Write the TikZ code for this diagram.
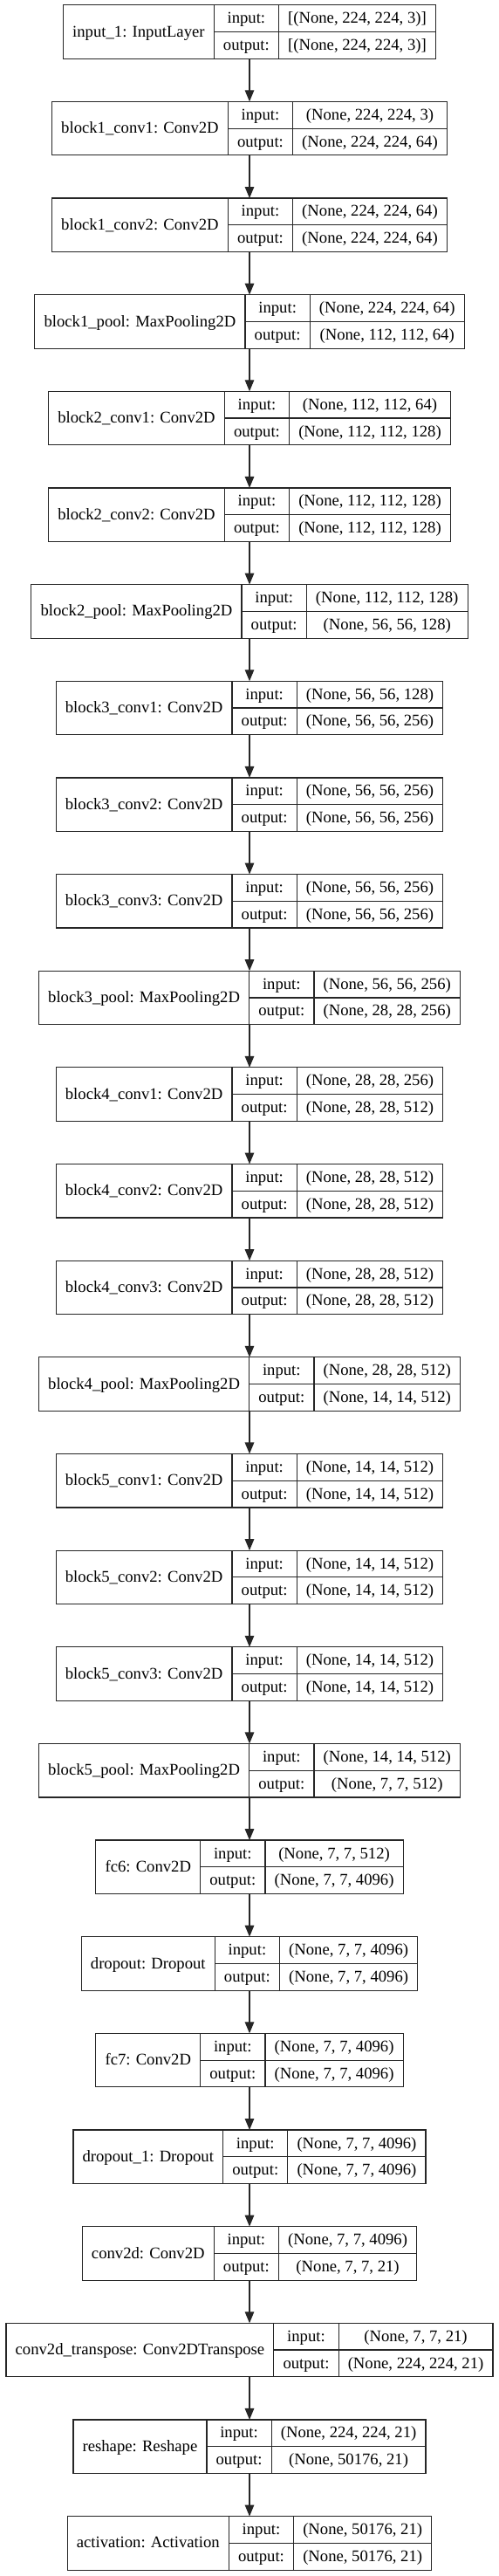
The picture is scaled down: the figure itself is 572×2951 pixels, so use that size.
\documentclass[tikz,border=0pt]{standalone}
\usepackage{fontspec}
\setmainfont{Liberation Serif}
\usetikzlibrary{arrows.meta}
\newlength\kwA \newlength\kwB \newlength\kwC \newlength\kwD
\font\kprim="Liberation Serif" at 18.667pt
\newcommand\kfont{\kprim}
\tikzset{
  recbox/.style={draw=black!85, line width=1.2pt, minimum height=61.5pt, inner sep=0pt, outer sep=0pt},
  recline/.style={draw=black!85, line width=1.2pt},
  rectext/.style={font=\kfont, inner sep=0pt, anchor=base, text=black},
  conn/.style={draw=black!85, line width=1.2pt, -{Triangle[length=13pt,width=10.5pt]}}
}
\newcommand\kerasrow[5]{%
  \settowidth\kwA{\kfont #3}%
  \settowidth\kwB{\kfont output:}%
  \settowidth\kwC{\kfont #4}%
  \settowidth\kwD{\kfont #5}%
  \pgfmathsetmacro\fa{\kwA+21.33}%
  \pgfmathsetmacro\fb{\kwB+21.33}%
  \pgfmathsetmacro\fc{max(\kwC,\kwD)+21.33}%
  \pgfmathsetmacro\fw{\fa+\fb+\fc}%
  \pgfmathsetmacro\fx{286-\fw/2}%
  \pgfmathsetmacro\fy{-(5.7+110.65*#1)}%
  \node[recbox, minimum width=\fw pt, anchor=north west] (#2) at (\fx,\fy) {};
  \draw[recline] ({\fx+\fa},\fy) -- ++(0,-61.5);
  \draw[recline] ({\fx+\fa+\fb},\fy) -- ++(0,-61.5);
  \draw[recline] ({\fx+\fa},{\fy-30.75}) -- ++({\fb+\fc},0);
  \node[rectext] (#2-name) at ({\fx+\fa/2},{\fy-30.75-5.6}) {#3};
  \node[rectext] (#2-ki) at ({\fx+\fa+\fb/2},{\fy-15.375-5.6}) {input:};
  \node[rectext] (#2-ko) at ({\fx+\fa+\fb/2},{\fy-46.125-5.6}) {output:};
  \node[rectext] (#2-vi) at ({\fx+\fa+\fb+\fc/2},{\fy-15.375-5.6}) {#4};
  \node[rectext] (#2-vo) at ({\fx+\fa+\fb+\fc/2},{\fy-46.125-5.6}) {#5};
}
\begin{document}
\begin{tikzpicture}[x=1pt, y=1pt]
\fill[white] (0,0) rectangle (572,-2951);
\useasboundingbox (0,0) rectangle (572,-2951);
\kerasrow{0}{L0}{input\_1: InputLayer}{[(None, 224, 224, 3)]}{[(None, 224, 224, 3)]}
\kerasrow{1}{L1}{block1\_conv1: Conv2D}{(None, 224, 224, 3)}{(None, 224, 224, 64)}
\kerasrow{2}{L2}{block1\_conv2: Conv2D}{(None, 224, 224, 64)}{(None, 224, 224, 64)}
\kerasrow{3}{L3}{block1\_pool: MaxPooling2D}{(None, 224, 224, 64)}{(None, 112, 112, 64)}
\kerasrow{4}{L4}{block2\_conv1: Conv2D}{(None, 112, 112, 64)}{(None, 112, 112, 128)}
\kerasrow{5}{L5}{block2\_conv2: Conv2D}{(None, 112, 112, 128)}{(None, 112, 112, 128)}
\kerasrow{6}{L6}{block2\_pool: MaxPooling2D}{(None, 112, 112, 128)}{(None, 56, 56, 128)}
\kerasrow{7}{L7}{block3\_conv1: Conv2D}{(None, 56, 56, 128)}{(None, 56, 56, 256)}
\kerasrow{8}{L8}{block3\_conv2: Conv2D}{(None, 56, 56, 256)}{(None, 56, 56, 256)}
\kerasrow{9}{L9}{block3\_conv3: Conv2D}{(None, 56, 56, 256)}{(None, 56, 56, 256)}
\kerasrow{10}{L10}{block3\_pool: MaxPooling2D}{(None, 56, 56, 256)}{(None, 28, 28, 256)}
\kerasrow{11}{L11}{block4\_conv1: Conv2D}{(None, 28, 28, 256)}{(None, 28, 28, 512)}
\kerasrow{12}{L12}{block4\_conv2: Conv2D}{(None, 28, 28, 512)}{(None, 28, 28, 512)}
\kerasrow{13}{L13}{block4\_conv3: Conv2D}{(None, 28, 28, 512)}{(None, 28, 28, 512)}
\kerasrow{14}{L14}{block4\_pool: MaxPooling2D}{(None, 28, 28, 512)}{(None, 14, 14, 512)}
\kerasrow{15}{L15}{block5\_conv1: Conv2D}{(None, 14, 14, 512)}{(None, 14, 14, 512)}
\kerasrow{16}{L16}{block5\_conv2: Conv2D}{(None, 14, 14, 512)}{(None, 14, 14, 512)}
\kerasrow{17}{L17}{block5\_conv3: Conv2D}{(None, 14, 14, 512)}{(None, 14, 14, 512)}
\kerasrow{18}{L18}{block5\_pool: MaxPooling2D}{(None, 14, 14, 512)}{(None, 7, 7, 512)}
\kerasrow{19}{L19}{fc6: Conv2D}{(None, 7, 7, 512)}{(None, 7, 7, 4096)}
\kerasrow{20}{L20}{dropout: Dropout}{(None, 7, 7, 4096)}{(None, 7, 7, 4096)}
\kerasrow{21}{L21}{fc7: Conv2D}{(None, 7, 7, 4096)}{(None, 7, 7, 4096)}
\kerasrow{22}{L22}{dropout\_1: Dropout}{(None, 7, 7, 4096)}{(None, 7, 7, 4096)}
\kerasrow{23}{L23}{conv2d: Conv2D}{(None, 7, 7, 4096)}{(None, 7, 7, 21)}
\kerasrow{24}{L24}{conv2d\_transpose: Conv2DTranspose}{(None, 7, 7, 21)}{(None, 224, 224, 21)}
\kerasrow{25}{L25}{reshape: Reshape}{(None, 224, 224, 21)}{(None, 50176, 21)}
\kerasrow{26}{L26}{activation: Activation}{(None, 50176, 21)}{(None, 50176, 21)}
\foreach \i in {0,...,25}{
  \pgfmathtruncatemacro\j{\i+1}
  \draw[conn] (L\i.south) -- (L\j.north);
}
\end{tikzpicture}
\end{document}
